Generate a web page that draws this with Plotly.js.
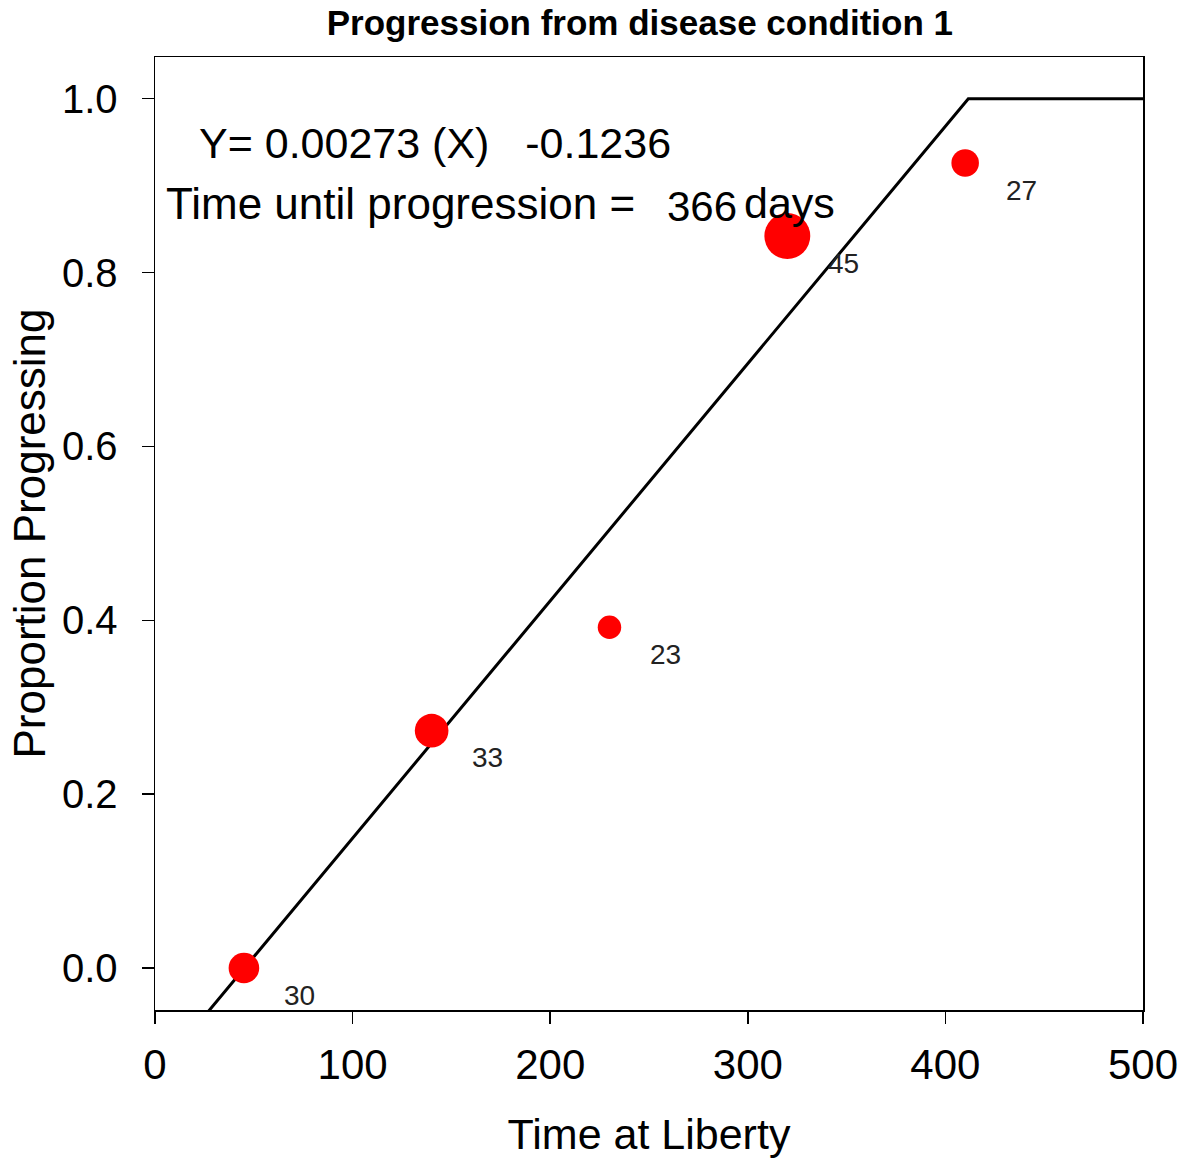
<!DOCTYPE html>
<html>
<head>
<meta charset="utf-8">
<script src="https://cdn.plot.ly/plotly-3.0.1.min.js"></script>
<style>
  html, body { margin: 0; padding: 0; background: #fff; }
  #chart { width: 1185px; height: 1161px; }
</style>
</head>
<body>
<div id="chart"></div>
<script>
// ---- data ----
var timeAtLiberty = [45, 140, 230, 320, 410];
var propProgressing = [0.0, 0.273, 0.392, 0.842, 0.926];
var sampleSize = [30, 33, 23, 45, 27];

var fitX = [0, 411.6, 500];
var fitY = [-0.1236, 1.0, 1.0];

var xTicks = [0, 100, 200, 300, 400, 500];
var yTicks = [0.0, 0.2, 0.4, 0.6, 0.8, 1.0];
var yTickLabels = ['0.0', '0.2', '0.4', '0.6', '0.8', '1.0'];

var titleText = 'Progression from disease condition 1';
var xTitle = 'Time at Liberty';
var yTitle = 'Proportion Progressing';
var eqText = 'Y= 0.00273 (X)   -0.1236';
var progText = 'Time until progression =';
var progDays = '366';
var daysText = 'days';

// ---- chart ----
var FONT = 'Liberation Sans, Arial, Helvetica, sans-serif';

var fitTrace = {
  x: fitX, y: fitY, type: 'scatter', mode: 'lines',
  line: { color: '#000000', width: 3 },
  hoverinfo: 'skip', showlegend: false
};

var pointTrace = {
  x: timeAtLiberty, y: propProgressing, type: 'scatter', mode: 'markers',
  marker: {
    color: '#ff0000', opacity: 1,
    size: sampleSize.map(function (n) { return n * 1.02; }),
    line: { width: 0 }
  },
  showlegend: false
};

var annotations = timeAtLiberty.map(function (x, i) {
  return {
    x: x, y: propProgressing[i], xref: 'x', yref: 'y',
    text: String(sampleSize[i]), showarrow: false,
    xshift: 56, yshift: -27,
    font: { family: FONT, size: 28, color: '#222222' }
  };
});

annotations.push({
  x: 21.3, y: 0.949, xref: 'x', yref: 'y', xanchor: 'left', yanchor: 'middle',
  text: eqText.replace(/ /g, '&nbsp;'), showarrow: false,
  font: { family: FONT, size: 43, color: '#000000' }
});
annotations.push({
  x: 4.8, y: 0.880, xref: 'x', yref: 'y', xanchor: 'left', yanchor: 'middle',
  text: progText, showarrow: false,
  font: { family: FONT, size: 44, color: '#000000' }
});
annotations.push({
  x: 258, y: 0.876, xref: 'x', yref: 'y', xanchor: 'left', yanchor: 'middle',
  text: progDays, showarrow: false,
  font: { family: FONT, size: 42, color: '#000000' }
});
annotations.push({
  x: 297, y: 0.880, xref: 'x', yref: 'y', xanchor: 'left', yanchor: 'middle',
  text: daysText, showarrow: false,
  font: { family: FONT, size: 43, color: '#000000' }
});

var layout = {
  width: 1185, height: 1161, autosize: false,
  paper_bgcolor: '#ffffff', plot_bgcolor: '#ffffff',
  margin: { l: 155, r: 42, t: 57, b: 151, pad: 0 },
  showlegend: false,
  title: {
    text: '<b>' + titleText + '</b>',
    font: { family: FONT, size: 35, color: '#000000' },
    x: 0.540, xref: 'container', xanchor: 'center',
    y: 1 - 23 / 1161, yref: 'container', yanchor: 'middle'
  },
  xaxis: {
    range: [0, 500], tickvals: xTicks, ticks: 'outside', ticklen: 12,
    tickwidth: 1.5, tickcolor: '#000000',
    showline: true, mirror: true, linecolor: '#000000', linewidth: 1.5,
    showgrid: false, zeroline: false,
    tickfont: { family: FONT, size: 42, color: '#000000' },
    ticklabelstandoff: 5,
    title: { text: xTitle, font: { family: FONT, size: 43, color: '#000000' }, standoff: 32 }
  },
  yaxis: {
    range: [-0.0483, 1.048], tickvals: yTicks, ticktext: yTickLabels,
    ticks: 'outside', ticklen: 12, tickwidth: 1.5, tickcolor: '#000000',
    showline: true, mirror: true, linecolor: '#000000', linewidth: 1.5,
    showgrid: false, zeroline: false,
    tickfont: { family: FONT, size: 40, color: '#000000' },
    ticklabelstandoff: 16,
    title: { text: yTitle, font: { family: FONT, size: 44, color: '#000000' }, standoff: 2 }
  },
  annotations: annotations
};

Plotly.newPlot('chart', [fitTrace, pointTrace], layout, { displayModeBar: false, staticPlot: true });
</script>
</body>
</html>
